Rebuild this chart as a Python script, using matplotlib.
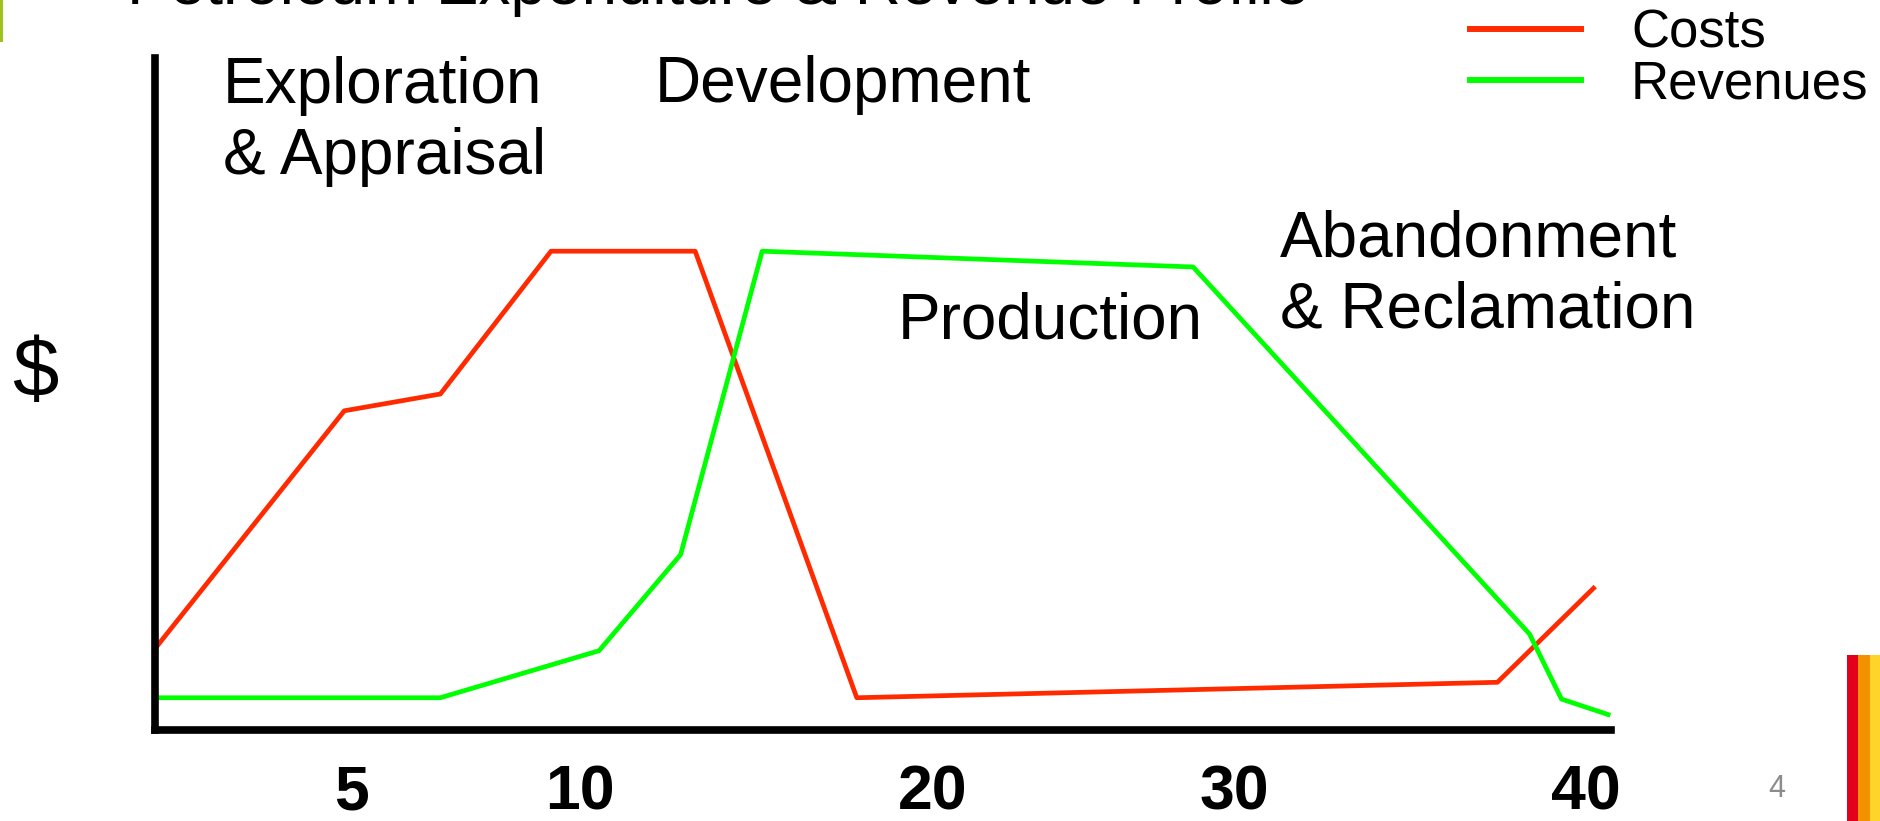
import matplotlib
matplotlib.use("Agg")
from matplotlib import pyplot as plt
from matplotlib.patches import Rectangle

plt.rcParams["font.family"] = ["Liberation Sans", "DejaVu Sans"]

# schematic profile, x in % of project life, y in % of peak
cost_x = [0, 13.0, 19.6, 27.2, 37.1, 48.2, 92.2, 98.8]
cost_y = [12.1, 47.5, 50.0, 71.25, 71.25, 4.8, 7.1, 21.1]

rev_x = [0, 19.6, 30.5, 36.1, 41.7, 71.3, 94.4, 96.6, 99.8]
rev_y = [4.8, 4.8, 11.8, 26.1, 71.25, 68.9, 14.3, 4.6, 2.3]

tick_pos = [13.5, 29.2, 53.4, 74.1, 98.3]
tick_labels = ["5", "10", "20", "30", "40"]

W, H = 1881, 821


def fx(px):
    return px / W


def fy(py):
    return 1 - py / H


fig = plt.figure(figsize=(W / 100, H / 100), dpi=100)
ax = fig.add_axes([fx(155), fy(730), (1611 - 155) / W, (730 - 58) / H])

ax.plot(cost_x, cost_y, color="#ff2a00", lw=3.4, label="Costs", clip_on=False)
ax.plot(rev_x, rev_y, color="#00ff00", lw=3.4, label="Revenues", clip_on=False)

ax.set_xlim(0, 100)
ax.set_ylim(0, 100)
for s in ["top", "right"]:
    ax.spines[s].set_visible(False)
for s in ["left", "bottom"]:
    ax.spines[s].set_linewidth(5.5)
    ax.spines[s].set_color("black")
ax.set_yticks([])
ax.set_xticks(tick_pos)
ax.set_xticklabels(tick_labels, fontsize=45, fontweight="bold")
ax.tick_params(axis="x", length=0, pad=24)

# phase labels (multi-line: baseline is the last line)
fig.text(fx(223), fy(174), "Exploration\n& Appraisal", fontsize=46,
         va="baseline", ha="left", linespacing=1.24)
fig.text(fx(655), fy(102), "Development", fontsize=46, va="baseline")
fig.text(fx(898), fy(338), "Production", fontsize=46, va="baseline")
fig.text(fx(1280), fy(328), "Abandonment\n& Reclamation", fontsize=46,
         va="baseline", linespacing=1.24)
fig.text(fx(12), fy(374), "$", fontsize=60, va="center", ha="left")

# cut-off slide title
fig.text(fx(127), fy(4), "Petroleum Expenditure & Revenue Profile",
         fontsize=46, va="baseline")

leg = fig.legend(loc="upper left", bbox_to_anchor=(fx(1470), fy(8)),
                 fontsize=38, frameon=False, handlelength=2.1,
                 handletextpad=0.95, labelspacing=0.02, borderpad=0,
                 borderaxespad=0)
for ln in leg.get_lines():
    ln.set_linewidth(4.3)

# slide decorations
fig.add_artist(Rectangle((0, fy(42)), fx(2.5), 42 / H, transform=fig.transFigure,
                         color="#9bc31c", lw=0))
stripe_cols = ["#e2001a", "#f39200", "#ffd42a"]
for i, c in enumerate(stripe_cols):
    fig.add_artist(Rectangle((fx(1847 + i * 11.5), 0), fx(11.5), (821 - 655) / H,
                             transform=fig.transFigure, color=c, lw=0))
fig.text(fx(1777), fy(789), "4", fontsize=22, color="#8c8c8c", ha="center", va="center")

fig.savefig("out.png", dpi=100)
